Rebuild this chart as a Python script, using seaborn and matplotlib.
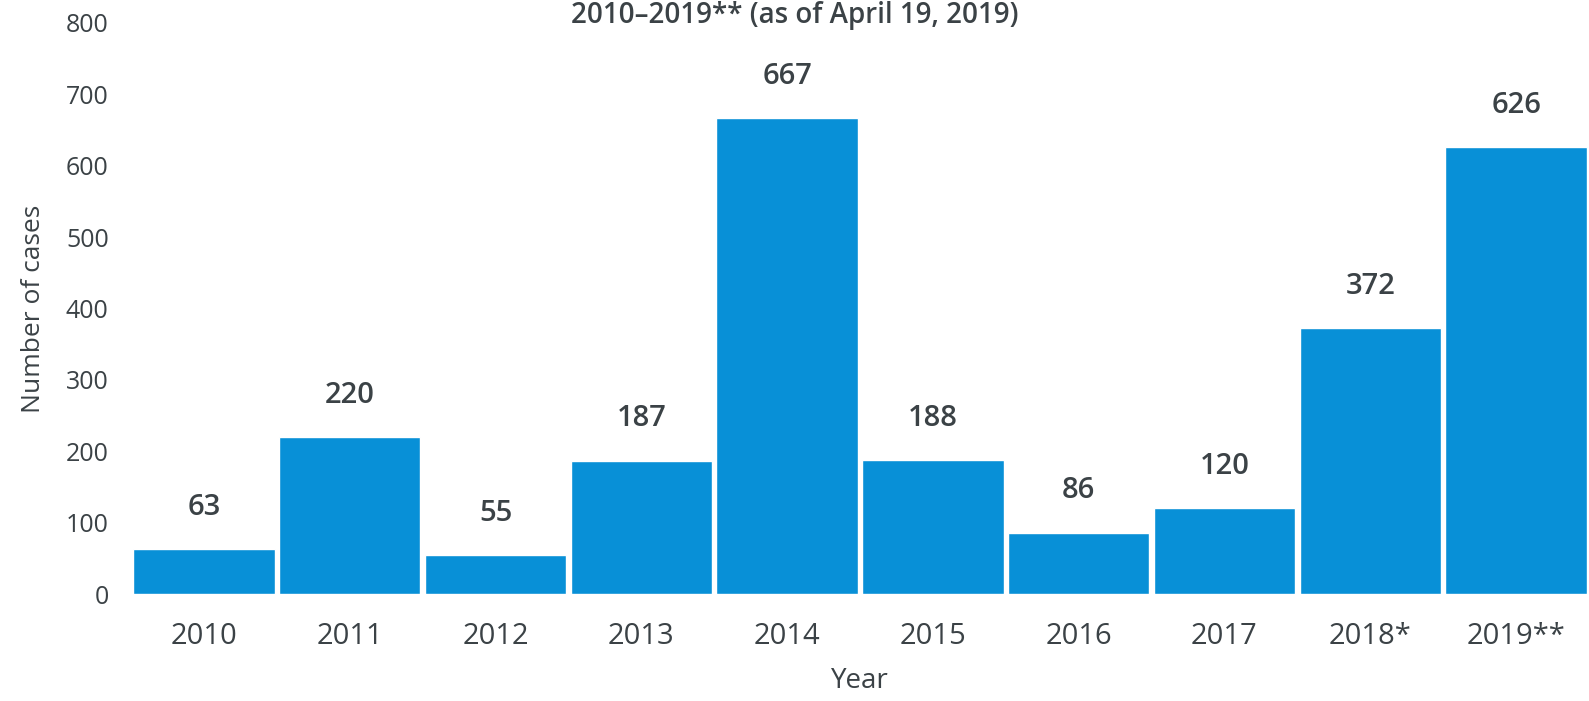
import matplotlib
matplotlib.use("Agg")
import matplotlib.pyplot as plt
import seaborn as sns

years = ["2010", "2011", "2012", "2013", "2014", "2015", "2016", "2017", "2018*", "2019**"]
cases = [63, 220, 55, 187, 667, 188, 86, 120, 372, 626]
title = "2010\u20132019** (as of April 19, 2019)"

sns.set_style("white")
plt.rcParams["font.family"] = ["Open Sans", "DejaVu Sans"]
text_color = "#3b4246"
bar_color = "#0890d7"

fig = plt.figure(figsize=(15.89, 7.01), dpi=100)
ax = fig.add_axes([0.0824, 0.1526, 0.9176, 0.8146])

sns.barplot(x=years, y=cases, color=bar_color, saturation=1, width=0.97, ax=ax)

# value labels above the bars
for i, v in enumerate(cases):
    ax.annotate(str(v), (i, v), xytext=(0, 30), textcoords="offset points",
                ha="center", va="center", fontsize=21, fontweight="semibold",
                color=text_color)

ax.set_ylim(0, 800)
ax.set_xlim(-0.5, len(years) - 0.5)
ax.set_yticks(range(0, 801, 100))
ax.tick_params(axis="x", labelsize=21, colors=text_color, length=0, pad=20)
ax.tick_params(axis="y", labelsize=18, colors=text_color, length=0, pad=16)
sns.despine(ax=ax, left=True, bottom=True)

ax.set_xlabel("Year", fontsize=20, color=text_color, labelpad=12)
ax.set_ylabel("Number of cases", fontsize=19, color=text_color, labelpad=14)
fig.text(0.5, 1 - 16 / 701, title, ha="center", va="center", fontsize=20,
         fontweight="semibold", color=text_color)

fig.savefig("out.png", dpi=100)
